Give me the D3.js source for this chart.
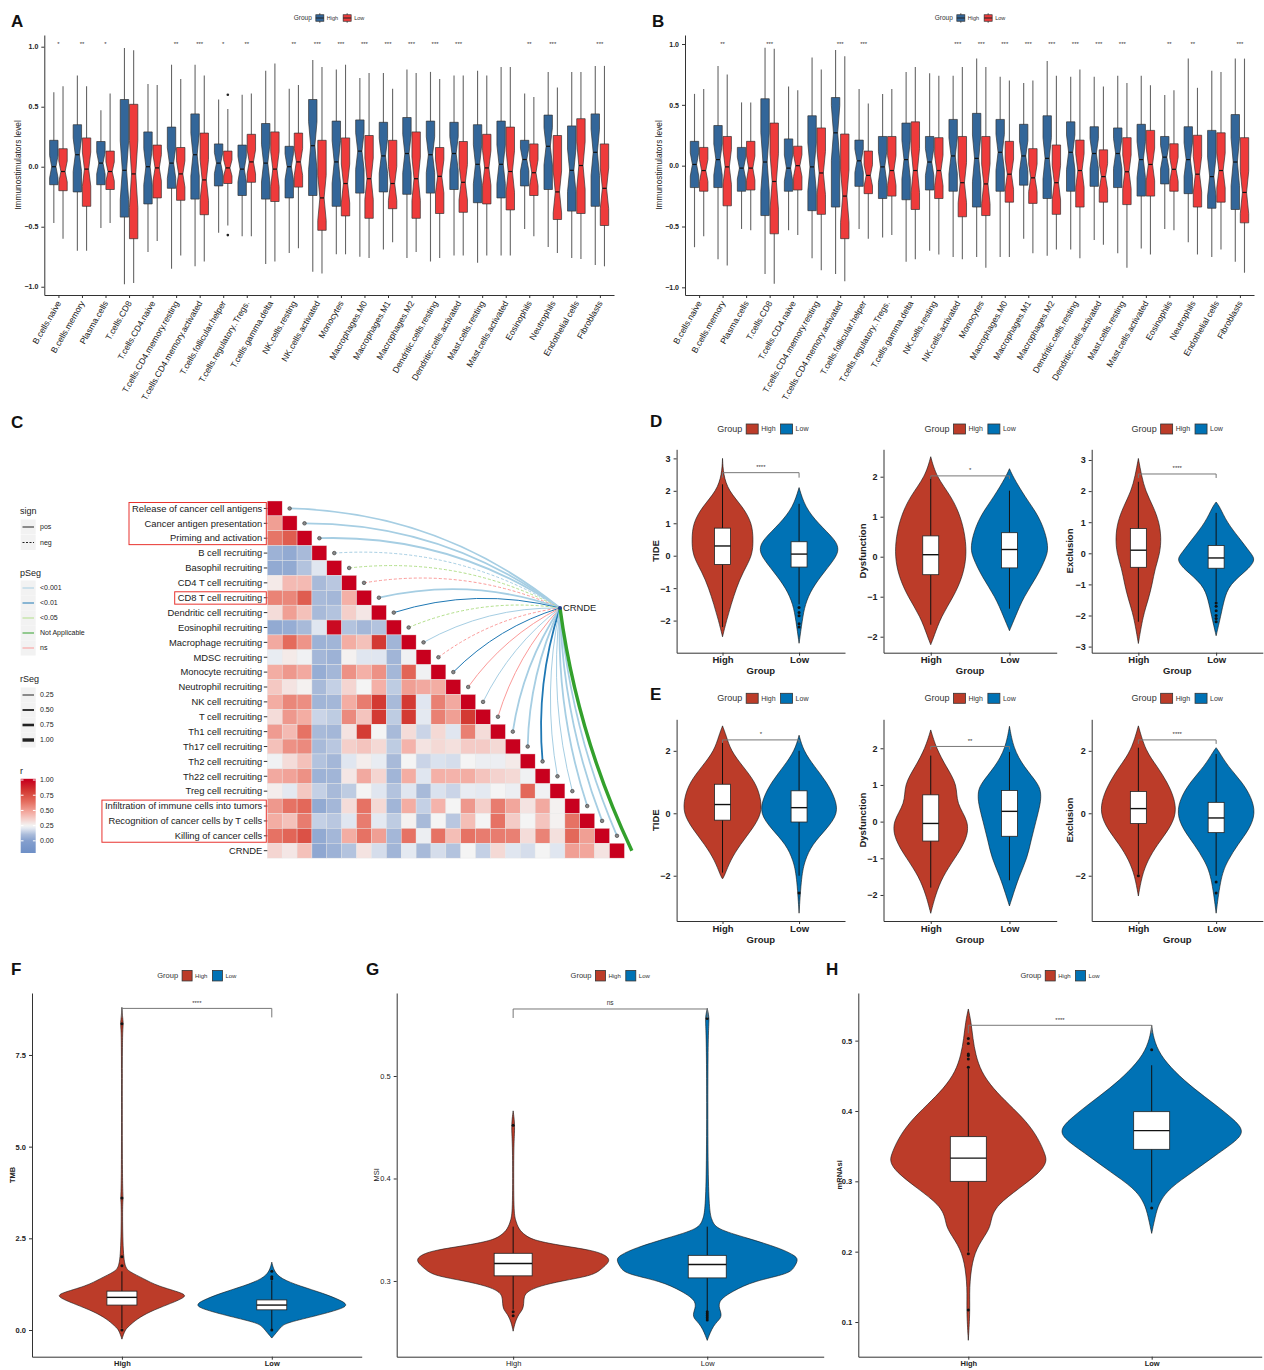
<!DOCTYPE html>
<html>
<head>
<meta charset="utf-8">
<script src="https://cdn.jsdelivr.net/npm/d3@7"></script>
<style>
  body { margin: 0; background: #fff; }
  svg text { font-family: "Liberation Sans", Arial, sans-serif; }
</style>
</head>
<body>
<svg id="fig" width="1264" height="1370"></svg>
<script>
// ---------------- data ----------------
const groups = ['High', 'Low'];
const cellTypes = ['B.cells.naive', 'B.cells.memory', 'Plasma.cells', 'T.cells.CD8', 'T.cells.CD4.naive',
  'T.cells.CD4.memory.resting', 'T.cells.CD4.memory.activated', 'T.cells.follicular.helper',
  'T.cells.regulatory..Tregs.', 'T.cells.gamma.delta', 'NK.cells.resting', 'NK.cells.activated', 'Monocytes',
  'Macrophages.M0', 'Macrophages.M1', 'Macrophages.M2', 'Dendritic.cells.resting', 'Dendritic.cells.activated',
  'Mast.cells.resting', 'Mast.cells.activated', 'Eosinophils', 'Neutrophils', 'Endothelial cells', 'Fibroblasts'];
const stimTicks = [-1, -0.5, 0, 0.5, 1];
const nPerGroup = 40; // used for notch size

// panel A  [lo, q1, median, q3, hi]
const sigA = ['*', '**', '*', '', '', '**', '***', '*', '**', '', '**', '***', '***', '***', '***', '***', '***', '***', '', '', '**', '***', '', '***'];
const aHigh = [[-0.47,-0.15,0.0,0.22,0.62],[-0.70,-0.21,0.10,0.35,0.76],[-0.51,-0.15,0.03,0.21,0.47],[-0.98,-0.42,-0.03,0.56,0.99],
  [-0.71,-0.31,0.0,0.29,0.69],[-0.85,-0.18,0.03,0.33,0.85],[-0.83,-0.27,0.10,0.44,0.85],[-0.55,-0.16,0.03,0.19,0.56],
  [-0.58,-0.24,-0.02,0.18,0.60],[-0.81,-0.27,0.03,0.36,0.80],[-0.72,-0.26,0.0,0.17,0.65],[-0.875,-0.24,0.175,0.56,0.89],
  [-0.73,-0.33,0.04,0.38,0.81],[-0.75,-0.22,0.13,0.39,0.74],[-0.69,-0.21,0.09,0.37,0.78],[-0.76,-0.23,0.11,0.41,0.81],
  [-0.79,-0.22,0.10,0.38,0.79],[-0.74,-0.19,0.11,0.37,0.76],[-0.80,-0.30,0.02,0.35,0.80],[-0.74,-0.26,0.02,0.38,0.83],
  [-0.52,-0.16,0.06,0.22,0.61],[-0.67,-0.19,0.17,0.43,0.79],[-0.76,-0.37,-0.03,0.34,0.79],[-0.82,-0.33,0.12,0.44,0.84]];
const aLow = [[-0.60,-0.20,-0.04,0.15,0.67],[-0.70,-0.33,-0.02,0.24,0.67],[-0.47,-0.19,-0.04,0.13,0.61],[-0.97,-0.60,-0.06,0.52,0.97],
  [-0.62,-0.26,-0.01,0.18,0.68],[-0.74,-0.28,-0.06,0.16,0.73],[-0.79,-0.40,-0.11,0.28,0.76],[-0.49,-0.14,-0.01,0.13,0.48],
  [-0.58,-0.13,0.04,0.27,0.61],[-0.79,-0.29,-0.02,0.29,0.86],[-0.68,-0.17,0.04,0.28,0.68],[-0.89,-0.53,-0.26,0.22,0.83],
  [-0.73,-0.41,-0.14,0.24,0.85],[-0.76,-0.43,-0.10,0.26,0.78],[-0.63,-0.35,-0.14,0.22,0.65],[-0.71,-0.43,-0.10,0.29,0.78],
  [-0.76,-0.39,-0.08,0.16,0.73],[-0.74,-0.38,-0.13,0.21,0.76],[-0.74,-0.31,-0.01,0.27,0.76],[-0.74,-0.36,-0.04,0.33,0.83],
  [-0.58,-0.24,-0.05,0.19,0.58],[-0.72,-0.44,-0.21,0.26,0.66],[-0.77,-0.39,0.01,0.40,0.79],[-0.83,-0.49,-0.18,0.19,0.84]];
const aLowOutliers = [[7, 0.60], [7, -0.57]];

// panel B
const sigB = ['', '**', '', '***', '', '', '***', '***', '', '', '', '***', '***', '***', '***', '***', '***', '***', '***', '', '**', '**', '', '***'];
const bHigh = [[-0.67,-0.18,0.01,0.20,0.59],[-0.77,-0.18,0.05,0.33,0.82],[-0.52,-0.21,-0.02,0.15,0.52],[-0.89,-0.41,0.03,0.55,0.97],
  [-0.53,-0.21,-0.02,0.22,0.65],[-0.76,-0.37,-0.01,0.41,0.89],[-0.89,-0.34,0.27,0.56,0.95],[-0.52,-0.17,0.04,0.21,0.63],
  [-0.59,-0.27,-0.01,0.24,0.59],[-0.79,-0.28,0.05,0.35,0.77],[-0.70,-0.20,0.03,0.24,0.76],[-0.75,-0.21,0.08,0.38,0.74],
  [-0.75,-0.34,0.06,0.43,0.88],[-0.75,-0.21,0.11,0.38,0.73],[-0.60,-0.16,0.08,0.34,0.68],[-0.74,-0.27,0.06,0.41,0.86],
  [-0.69,-0.21,0.11,0.36,0.73],[-0.61,-0.17,0.10,0.32,0.73],[-0.72,-0.18,0.10,0.31,0.74],[-0.68,-0.25,0.05,0.34,0.74],
  [-0.52,-0.15,0.07,0.24,0.58],[-0.63,-0.23,0.05,0.32,0.88],[-0.75,-0.35,-0.09,0.29,0.78],[-0.79,-0.36,0.03,0.42,0.88]];
const bLow = [[-0.58,-0.21,-0.04,0.15,0.63],[-0.82,-0.33,-0.01,0.24,0.75],[-0.53,-0.20,-0.02,0.20,0.52],[-0.97,-0.56,-0.13,0.35,0.96],
  [-0.57,-0.20,0.0,0.16,0.62],[-0.86,-0.40,-0.06,0.31,0.79],[-0.95,-0.60,-0.25,0.26,0.90],[-0.60,-0.23,-0.08,0.12,0.51],
  [-0.57,-0.25,-0.04,0.24,0.63],[-0.77,-0.36,-0.04,0.36,0.81],[-0.73,-0.27,-0.04,0.23,0.74],[-0.77,-0.42,-0.14,0.24,0.81],
  [-0.84,-0.41,-0.15,0.24,0.81],[-0.75,-0.30,-0.07,0.20,0.70],[-0.72,-0.31,-0.10,0.14,0.70],[-0.69,-0.40,-0.14,0.17,0.74],
  [-0.76,-0.34,-0.04,0.21,0.79],[-0.65,-0.30,-0.09,0.13,0.65],[-0.84,-0.32,-0.05,0.23,0.68],[-0.73,-0.25,0.01,0.29,0.66],
  [-0.53,-0.21,-0.03,0.18,0.62],[-0.73,-0.34,-0.07,0.25,0.64],[-0.69,-0.30,-0.04,0.27,0.77],[-0.88,-0.47,-0.22,0.23,0.88]];

// panel C : cancer-immunity cycle steps vs CRNDE (lower triangle of r)
const immuneSteps = ['Release of cancer cell antigens', 'Cancer antigen presentation', 'Priming and activation',
  'B cell recruiting', 'Basophil recruiting', 'CD4 T cell recruiting', 'CD8 T cell recruiting', 'Dendritic cell recruiting',
  'Eosinophil recruiting', 'Macrophage recruiting', 'MDSC recruiting', 'Monocyte recruiting', 'Neutrophil recruiting',
  'NK cell recruiting', 'T cell recruiting', 'Th1 cell recruiting', 'Th17 cell recruiting', 'Th2 cell recruiting',
  'Th22 cell recruiting', 'Treg cell recruiting', 'Infiltration of immune cells into tumors',
  'Recognition of cancer cells by T cells', 'Killing of cancer cells', 'CRNDE'];
const highlightRows = [[0, 2], [6, 6], [20, 22]];
const corrLower = [[],
  [0.5],
  [0.62,0.7],
  [0.07,0.04,0.1],
  [0.04,0.04,0.12,0.2],
  [0.28,0.42,0.42,0.1,0.13],
  [0.58,0.57,0.7,0.1,0.09,0.45],
  [0.32,0.5,0.4,0.1,0.12,0.36,0.29],
  [0.04,0.05,0.1,0.2,0.97,0.12,0.09,0.12],
  [0.47,0.65,0.53,0.07,0.08,0.46,0.4,0.82,0.08],
  [0.22,0.28,0.24,0.09,0.07,0.26,0.2,0.2,0.08,0.24],
  [0.46,0.52,0.47,0.05,0.09,0.54,0.45,0.54,0.09,0.67,0.24],
  [0.38,0.3,0.26,0.1,0.15,0.34,0.25,0.45,0.14,0.5,0.47,0.46],
  [0.46,0.57,0.55,0.08,0.09,0.46,0.6,0.82,0.1,0.82,0.2,0.59,0.47],
  [0.32,0.52,0.46,0.16,0.14,0.56,0.39,0.82,0.14,0.82,0.21,0.59,0.5,0.82],
  [0.51,0.42,0.63,0.1,0.09,0.3,0.81,0.25,0.1,0.32,0.16,0.33,0.2,0.59,0.32],
  [0.4,0.54,0.56,0.1,0.13,0.36,0.39,0.33,0.14,0.44,0.3,0.33,0.31,0.37,0.37,0.33],
  [0.24,0.32,0.4,0.12,0.09,0.2,0.27,0.22,0.1,0.25,0.16,0.19,0.18,0.25,0.23,0.23,0.28],
  [0.47,0.49,0.54,0.07,0.08,0.29,0.47,0.34,0.08,0.46,0.2,0.45,0.44,0.46,0.39,0.35,0.33,0.24],
  [0.27,0.21,0.38,0.15,0.1,0.14,0.25,0.2,0.12,0.2,0.1,0.19,0.16,0.22,0.21,0.25,0.23,0.66,0.24],
  [0.52,0.63,0.66,0.04,0.09,0.32,0.63,0.33,0.08,0.46,0.15,0.44,0.25,0.52,0.36,0.6,0.48,0.3,0.47,0.26],
  [0.46,0.4,0.6,0.15,0.13,0.2,0.6,0.21,0.14,0.26,0.1,0.25,0.13,0.41,0.25,0.63,0.37,0.25,0.39,0.26,0.63],
  [0.63,0.67,0.74,0.04,0.09,0.46,0.63,0.5,0.09,0.63,0.23,0.63,0.41,0.63,0.6,0.6,0.59,0.32,0.58,0.31,0.66,0.5],
  [0.34,0.29,0.4,0.03,0.07,0.12,0.3,0.18,0.08,0.21,0.1,0.18,0.12,0.25,0.15,0.33,0.2,0.18,0.25,0.2,0.5,0.48,0.3]];
const linkSign = ['pos','pos','pos','neg','neg','neg','pos','pos','neg','pos','neg','pos','pos','pos','pos','pos','pos','pos','pos','pos','pos','pos','pos','pos'];
const linkP = ['<0.001','<0.001','<0.001','<0.001','<0.05','ns','<0.001','<0.01','<0.05','<0.001','ns','<0.01','ns','<0.001','ns','<0.001','<0.001','<0.01','<0.001','<0.001','<0.001','<0.001','<0.001','Not Applicable'];
const linkR = [0.5,0.5,0.5,0.25,0.25,0.25,0.5,0.25,0.25,0.25,0.25,0.25,0.25,0.25,0.25,0.5,0.5,0.5,0.25,0.25,0.5,0.5,0.5,1.0];
const pLevels = ['<0.001', '<0.01', '<0.05', 'Not Applicable', 'ns'];
const rLevels = [0.25, 0.5, 0.75, 1.0];
const rTicks = [1.0, 0.75, 0.5, 0.25, 0.0];

// panels D/E: violins  (density profile [value, relative density]), box [lo,q1,med,q3,hi]
const dTideHighDens = [[3.0,0],[2.5,0.02],[2.0,0.15],[1.5,0.52],[1.0,0.75],[0.5,0.78],[0,0.76],[-0.5,0.52],[-1,0.35],[-1.5,0.22],[-2,0.1],[-2.5,0]];
const dTideLowDens = [[2.1,0],[1.5,0.15],[1,0.48],[0.5,0.91],[0.25,1.0],[0,0.97],[-0.5,0.64],[-1,0.33],[-1.5,0.15],[-2,0.08],[-2.7,0]];
const dTideHighBox = [-2.2,-0.27,0.3,0.85,2.2];
const dTideLowBox = [-1.5,-0.35,0.05,0.43,1.6];
const dTideLowOut = [-1.6,-1.75,-1.85,-2.1,-2.2];
const dDysHighDens = [[2.5,0],[2,0.14],[1.5,0.53],[1,0.76],[0.5,0.88],[0,0.91],[-0.5,0.81],[-1,0.58],[-1.5,0.26],[-2,0.08],[-2.2,0]];
const dDysLowDens = [[2.2,0],[2,0.09],[1.5,0.39],[1,0.76],[0.5,0.94],[0.2,0.98],[0,0.94],[-0.5,0.7],[-1,0.36],[-1.5,0.15],[-1.85,0]];
const dDysHighBox = [-1.7,-0.45,0.05,0.52,2.0];
const dDysLowBox = [-1.3,-0.28,0.18,0.6,1.65];
const dExcHighDens = [[3.05,0],[2.5,0.08],[2,0.18],[1.5,0.38],[1,0.53],[0.5,0.58],[0,0.55],[-0.5,0.42],[-1,0.35],[-1.5,0.25],[-2,0.12],[-2.9,0]];
const dExcLowDens = [[1.65,0],[1.5,0.09],[1,0.27],[0.5,0.58],[0,0.88],[-0.2,1.0],[-0.5,0.83],[-1,0.33],[-1.5,0.2],[-2,0.12],[-2.65,0]];
const dExcHighBox = [-2.2,-0.45,0.1,0.8,2.3];
const dExcLowBox = [-1.55,-0.48,-0.15,0.25,1.3];
const dExcLowOut = [-1.6,-1.7,-1.85,-2.0,-2.1,-2.2];

const eTideHighDens = [[2.8,0],[2.5,0.09],[2,0.21],[1.5,0.52],[1,0.83],[0.5,0.97],[0,1.0],[-0.5,0.76],[-1,0.45],[-1.5,0.2],[-2,0.05],[-2.1,0]];
const eTideLowDens = [[2.5,0],[2,0.11],[1.5,0.39],[1,0.7],[0.5,0.91],[0,1.0],[-0.5,0.7],[-1,0.33],[-1.5,0.15],[-2,0.06],[-3.2,0]];
const eTideHighBox = [-1.9,-0.22,0.28,0.93,2.3];
const eTideLowBox = [-2.0,-0.28,0.18,0.72,2.0];
const eTideLowOut = [-2.55];
const eDysHighDens = [[2.5,0],[2,0.14],[1.5,0.39],[1,0.68],[0.5,0.64],[0,0.98],[-0.5,0.91],[-1,0.61],[-1.5,0.3],[-2,0.12],[-2.5,0]];
const eDysLowDens = [[2.6,0],[2,0.1],[1.5,0.36],[1,0.76],[0.75,0.8],[0.5,0.79],[0,0.67],[-0.5,0.55],[-1,0.45],[-1.5,0.24],[-2,0.09],[-2.3,0]];
const eDysHighBox = [-1.8,-0.53,-0.05,0.73,1.8];
const eDysLowBox = [-1.6,-0.4,0.28,0.85,1.9];
const eExcHighDens = [[2.8,0],[2,0.18],[1.5,0.48],[1,0.73],[0.5,0.91],[0,0.97],[-0.5,0.79],[-1,0.48],[-1.5,0.24],[-2,0.09],[-2.65,0]];
const eExcLowDens = [[2.1,0],[2,0.06],[1.5,0.3],[1,0.66],[0.5,0.9],[0,1.0],[-0.5,0.85],[-1,0.55],[-1.5,0.3],[-2,0.12],[-3.2,0]];
const eExcHighBox = [-1.95,-0.33,0.15,0.7,2.1];
const eExcLowBox = [-2.0,-0.62,-0.15,0.35,1.9];
const eExcHighOut = [-2.0];
const eExcLowOut = [-2.2,-2.55];

// panels F/G/H
const tmbHighDens = [[8.8,0],[8.5,0.01],[8.35,0.02],[8.2,0.01],[7.5,0.005],[3.8,0.005],[3.6,0.02],[3.4,0.005],[2.0,0.015],[1.7,0.05],[1.6,0.09],[1.4,0.29],[1.2,0.47],[1.0,0.83],[0.9,0.86],[0.7,0.62],[0.5,0.37],[0.3,0.2],[0.1,0.09],[0,0.04],[-0.25,0]];
const tmbLowDens = [[1.85,0],[1.6,0.03],[1.4,0.12],[1.2,0.37],[1.0,0.69],[0.8,0.93],[0.7,1.0],[0.6,0.97],[0.4,0.62],[0.2,0.2],[0.1,0.13],[0,0.09],[-0.22,0]];
const tmbHighBox = [0.05,0.68,0.89,1.06,1.6];
const tmbLowBox = [0.02,0.55,0.68,0.82,1.35];
const tmbHighOut = [8.35,3.6,2.0,1.75,0.0];
const tmbLowOut = [1.6,1.45,1.4,0.0];
const msiHighDens = [[0.466,0],[0.455,0.015],[0.445,0.015],[0.43,0.005],[0.37,0.005],[0.36,0.02],[0.35,0.06],[0.345,0.12],[0.34,0.2],[0.335,0.46],[0.33,0.82],[0.325,0.96],[0.32,1.0],[0.315,0.95],[0.31,0.89],[0.305,0.8],[0.3,0.5],[0.295,0.27],[0.29,0.15],[0.285,0.11],[0.278,0.11],[0.272,0.1],[0.268,0.06],[0.26,0.02],[0.251,0]];
const msiLowDens = [[0.566,0],[0.555,0.025],[0.545,0.005],[0.37,0.005],[0.36,0.05],[0.351,0.08],[0.342,0.41],[0.332,0.75],[0.325,0.9],[0.321,0.94],[0.314,0.9],[0.307,0.85],[0.3,0.48],[0.29,0.26],[0.28,0.1],[0.27,0.14],[0.264,0.15],[0.257,0.06],[0.242,0]];
const msiHighBox = [0.272,0.305,0.317,0.327,0.353];
const msiLowBox = [0.27,0.303,0.316,0.325,0.353];
const msiHighOut = [0.452,0.27,0.266];
const msiLowOut = [0.556,0.27,0.268,0.266,0.264,0.262];
const siHighDens = [[0.545,0],[0.527,0.03],[0.503,0.05],[0.48,0.08],[0.456,0.14],[0.432,0.27],[0.409,0.45],[0.385,0.64],[0.361,0.77],[0.337,0.85],[0.328,0.86],[0.314,0.8],[0.29,0.56],[0.266,0.31],[0.247,0.25],[0.233,0.24],[0.21,0.11],[0.186,0.04],[0.148,0.01],[0.117,0.02],[0.074,0]];
const siLowDens = [[0.522,0],[0.503,0.02],[0.48,0.09],[0.456,0.25],[0.432,0.46],[0.409,0.7],[0.385,0.93],[0.373,1.0],[0.361,0.97],[0.337,0.7],[0.314,0.46],[0.29,0.19],[0.271,0.09],[0.257,0.05],[0.226,0]];
const siHighBox = [0.2,0.3,0.333,0.3635,0.46];
const siLowBox = [0.27,0.3455,0.372,0.399,0.465];
const siHighOut = [0.503,0.496,0.481,0.479,0.474,0.462,0.197,0.117];
const siLowOut = [0.487,0.262];

// ---------------- drawing ----------------
const svg = d3.select('#fig');
const boxCols = ['#336699', '#EE3B3B'];
const vioCols = ['#BC3C29', '#0072B5'];

function styleAxis(sel, fs, bold) {
  sel.attr('font-family', null).attr('font-size', null);
  sel.select('.domain').attr('stroke', '#333').attr('stroke-width', 1);
  sel.selectAll('.tick line').attr('stroke', '#333');
  sel.selectAll('.tick text').attr('fill', '#222').style('font-size', fs + 'px')
    .style('font-weight', bold ? 'bold' : 'normal');
}

function groupLegend(cx, cy, o) {
  const g = svg.append('g');
  const t = g.append('text').text('Group').attr('y', cy).attr('dy', '0.35em')
    .style('font-size', o.titleFs + 'px').attr('fill', '#333');
  let x = t.node().getComputedTextLength() + 4;
  groups.forEach((name, i) => {
    const k = g.append('g').attr('transform', `translate(${x},${cy - o.kh / 2})`);
    if (o.boxGlyph) {
      k.append('line').attr('x1', o.kw / 2).attr('x2', o.kw / 2).attr('y1', -1.5).attr('y2', o.kh + 1.5).attr('stroke', '#555');
      k.append('rect').attr('width', o.kw).attr('height', o.kh).attr('fill', o.cols[i]).attr('stroke', '#333').attr('stroke-width', 0.7);
      k.append('line').attr('x1', 0).attr('x2', o.kw).attr('y1', o.kh / 2).attr('y2', o.kh / 2).attr('stroke', '#222');
    } else {
      k.append('rect').attr('width', o.kw).attr('height', o.kh).attr('fill', o.cols[i]).attr('stroke', '#333').attr('stroke-width', 0.8);
    }
    x += o.kw + 3;
    const lt = g.append('text').text(name).attr('x', x).attr('y', cy).attr('dy', '0.35em')
      .style('font-size', o.labFs + 'px').attr('fill', '#333');
    x += lt.node().getComputedTextLength() + 5;
  });
  g.attr('transform', `translate(${cx - (x - 5) / 2},0)`);
}

function boxPanel(o) {
  const g = svg.append('g');
  const x = d3.scalePoint().domain(cellTypes).range([o.left, o.right]).padding(0.6);
  const y = d3.scaleLinear().domain(o.yDomain).range([o.bottom, o.top]);
  const ya = g.append('g').attr('transform', `translate(${o.left},0)`)
    .call(d3.axisLeft(y).tickValues(stimTicks).tickFormat(d3.format('.1f')).tickSize(3).tickSizeOuter(0));
  styleAxis(ya, 7, true);
  const xa = g.append('g').attr('transform', `translate(0,${o.bottom})`)
    .call(d3.axisBottom(x).tickSize(3).tickSizeOuter(0).tickFormat(''));
  styleAxis(xa, 8, false);
  g.selectAll('text.xl').data(cellTypes).join('text').attr('class', 'xl')
    .attr('transform', d => `translate(${x(d) + 3},${o.bottom + 8}) rotate(-60)`)
    .attr('text-anchor', 'end').style('font-size', '8.6px').attr('fill', '#1a1a1a').text(d => d);
  g.append('text').attr('transform', `translate(${o.left - 26},${(o.top + o.bottom) / 2}) rotate(-90)`)
    .attr('text-anchor', 'middle').attr('dy', '0.35em').style('font-size', '8.3px').attr('fill', '#222')
    .text('Immunostimulators level');
  g.selectAll('text.sig').data(o.sig).join('text').attr('class', 'sig')
    .attr('x', (d, i) => x(cellTypes[i])).attr('y', o.top + 10.5).attr('text-anchor', 'middle')
    .style('font-size', '6px').attr('fill', '#333').text(d => d);
  const bw = 8.4, hw = bw / 2, nw = hw * 0.5;
  [o.high, o.low].forEach((stats, gi) => {
    const off = gi === 0 ? -4.6 : 4.6;
    stats.forEach((s, i) => {
      const cx = x(cellTypes[i]) + off;
      const [lo, q1, med, q3, hi] = s;
      const notch = 1.58 * (q3 - q1) / Math.sqrt(nPerGroup);
      g.append('line').attr('x1', cx).attr('x2', cx).attr('y1', y(hi)).attr('y2', y(lo))
        .attr('stroke', '#666').attr('stroke-width', 1.1);
      const pts = [[cx - hw, y(q3)], [cx + hw, y(q3)], [cx + hw, y(med + notch)], [cx + hw - nw, y(med)],
        [cx + hw, y(med - notch)], [cx + hw, y(q1)], [cx - hw, y(q1)], [cx - hw, y(med - notch)],
        [cx - hw + nw, y(med)], [cx - hw, y(med + notch)]];
      g.append('path').attr('d', 'M' + pts.join('L') + 'Z').attr('fill', boxCols[gi])
        .attr('stroke', '#333').attr('stroke-width', 0.7);
      g.append('line').attr('x1', cx - hw + nw).attr('x2', cx + hw - nw).attr('y1', y(med)).attr('y2', y(med))
        .attr('stroke', '#111').attr('stroke-width', 1.2);
    });
  });
  (o.lowOut || []).forEach(([i, v]) => {
    g.append('circle').attr('cx', x(cellTypes[i]) + 4.6).attr('cy', y(v)).attr('r', 1.3).attr('fill', '#222');
  });
  groupLegend(o.legendX, 18, { titleFs: 6.5, labFs: 5.5, kw: 8, kh: 6.5, boxGlyph: true, cols: boxCols });
}

function violinPath(dens, cx, y, w) {
  const top = dens.slice().sort((a, b) => b[0] - a[0]);
  const line = d3.line().y(d => y(d[0])).curve(d3.curveBasis);
  const right = line.x(d => cx + w(d[1]))(top);
  const left = line.x(d => cx - w(d[1]))(top.slice().reverse());
  return right + 'L' + left.slice(1) + 'Z';
}

function violinPanel(o) {
  const g = svg.append('g');
  const x = d3.scalePoint().domain(groups).range([o.left, o.right]).padding(0.6);
  const y = d3.scaleLinear().domain(o.yDomain).range([o.bottom, o.top]);
  const w = d3.scaleLinear().domain([0, 1]).range([0, o.maxHalf]);
  const ya = g.append('g').attr('transform', `translate(${o.left},0)`)
    .call(d3.axisLeft(y).tickValues(o.ticks).tickFormat(o.fmt).tickSize(3).tickSizeOuter(0));
  styleAxis(ya, o.tickFs, o.bold);
  const xa = g.append('g').attr('transform', `translate(0,${o.bottom})`)
    .call(d3.axisBottom(x).tickSize(3).tickPadding(1).tickSizeOuter(0));
  styleAxis(xa, o.xFs, o.bold);
  g.append('text').attr('transform', `translate(${o.titleX},${(o.top + o.bottom) / 2}) rotate(-90)`)
    .attr('text-anchor', 'middle').attr('dy', '0.35em').style('font-size', o.titleFs + 'px')
    .style('font-weight', o.bold ? 'bold' : 'normal').attr('fill', '#222').text(o.yTitle);
  if (o.groupTitle) {
    g.append('text').attr('x', (o.left + o.right) / 2).attr('y', o.bottom + 21.5).attr('text-anchor', 'middle')
      .style('font-size', o.xFs + 'px').style('font-weight', 'bold').attr('fill', '#222').text('Group');
  }
  o.series.forEach((s, i) => {
    const cx = x(groups[i]);
    g.append('path').attr('d', violinPath(s.dens, cx, y, w)).attr('fill', vioCols[i])
      .attr('stroke', '#111').attr('stroke-width', 0.6);
    const [lo, q1, med, q3, hi] = s.box;
    g.append('line').attr('x1', cx).attr('x2', cx).attr('y1', y(hi)).attr('y2', y(lo)).attr('stroke', '#111').attr('stroke-width', 1);
    g.append('rect').attr('x', cx - o.boxW / 2).attr('width', o.boxW).attr('y', y(q3)).attr('height', y(q1) - y(q3))
      .attr('fill', '#fff').attr('stroke', '#222').attr('stroke-width', 0.8);
    g.append('line').attr('x1', cx - o.boxW / 2).attr('x2', cx + o.boxW / 2).attr('y1', y(med)).attr('y2', y(med))
      .attr('stroke', '#111').attr('stroke-width', 1.4);
    (s.out || []).forEach(v => g.append('circle').attr('cx', cx).attr('cy', y(v)).attr('r', 1.5).attr('fill', '#111'));
  });
  const by = y(o.bracketV), x1 = x(groups[0]), x2 = x(groups[1]);
  g.append('path').attr('d', `M${x1},${by + o.tip}L${x1},${by}L${x2},${by}L${x2},${by + o.tip}`)
    .attr('fill', 'none').attr('stroke', '#777').attr('stroke-width', 1);
  g.append('text').attr('x', (x1 + x2) / 2).attr('y', by - 3.5).attr('text-anchor', 'middle')
    .style('font-size', o.sig === 'ns' ? '6.5px' : '6px').attr('fill', '#333').text(o.sig);
  groupLegend((o.left + o.right) / 2 + o.legendShift, o.legendY, o.legend);
}

// ---- panel letters
[['A', 11, 27], ['B', 652, 27], ['C', 11, 428], ['D', 650, 427], ['E', 650, 700], ['F', 11, 975], ['G', 366, 975], ['H', 826, 975]]
  .forEach(([t, x, y]) => svg.append('text').attr('x', x).attr('y', y).style('font-size', '17px')
    .style('font-weight', 'bold').attr('fill', '#111').text(t));

// ---- A, B
boxPanel({ left: 44.3, right: 614, top: 35, bottom: 295, yDomain: [-1.069, 1.0975], high: aHigh, low: aLow, sig: sigA, lowOut: aLowOutliers, legendX: 329 });
boxPanel({ left: 685, right: 1254, top: 35, bottom: 295, yDomain: [-1.063, 1.074], high: bHigh, low: bLow, sig: sigB, legendX: 970 });

// ---- C : correlation heatmap + links
(function () {
  const g = svg.append('g');
  const n = immuneSteps.length;
  const x0 = 267.3, y0 = 501, cell = 14.88;
  const colC = j => x0 + (j + 0.5) * cell;
  const rowC = i => y0 + (i + 0.5) * cell;
  const rColor = d3.scaleLinear().domain([-0.2, 0, 0.1, 0.2, 0.25, 0.45, 0.65, 0.82, 1])
    .range(['#6E8FC6', '#849FCE', '#A8BAD9', '#E0E6F0', '#F4F4F4', '#F4B0A7', '#E46B5C', '#D33A33', '#C8001E']).clamp(true);
  const cells = [];
  for (let i = 0; i < n; i++) for (let j = 0; j <= i; j++) cells.push({ i, j, r: i === j ? 1 : corrLower[i][j] });
  g.selectAll('rect.cell').data(cells).join('rect').attr('class', 'cell')
    .attr('x', d => x0 + d.j * cell).attr('y', d => y0 + d.i * cell).attr('width', cell).attr('height', cell)
    .attr('fill', d => rColor(d.r)).attr('stroke', '#e6e6e6').attr('stroke-width', 0.4);
  // row labels
  const labs = g.selectAll('text.rl').data(immuneSteps).join('text').attr('class', 'rl')
    .attr('x', x0 - 5).attr('y', (d, i) => rowC(i)).attr('dy', '0.35em').attr('text-anchor', 'end')
    .style('font-size', '9.4px').attr('fill', '#1a1a1a').text(d => d);
  g.selectAll('line.rt').data(immuneSteps).join('line').attr('class', 'rt')
    .attr('x1', x0 - 3.5).attr('x2', x0).attr('y1', (d, i) => rowC(i)).attr('y2', (d, i) => rowC(i)).attr('stroke', '#333');
  const widths = labs.nodes().map(nd => nd.getComputedTextLength());
  highlightRows.forEach(([a, b]) => {
    const wmax = d3.max(d3.range(a, b + 1), i => widths[i]);
    g.append('rect').attr('x', x0 - 5 - wmax - 3).attr('y', y0 + a * cell + 1.5)
      .attr('width', wmax + 7).attr('height', (b - a + 1) * cell - 2.5)
      .attr('fill', 'none').attr('stroke', '#E8322E').attr('stroke-width', 1);
  });
  // links
  const node = [560, 608];
  const pCol = d3.scaleOrdinal().domain(pLevels).range(['#A6CEE3', '#1F78B4', '#B2DF8A', '#33A02C', '#FB9A99']);
  const rW = d3.scaleLinear().domain([0.25, 1]).range([1, 3.4]);
  linkSign.forEach((s, i) => {
    const px = colC(i + 1), py = rowC(i);
    const dx = node[0] - px, dy = node[1] - py;
    const k = 0.17 - 0.004 * i;
    const qx = (px + node[0]) / 2 + k * dy, qy = (py + node[1]) / 2 - k * dx;
    g.append('path').attr('d', `M${px},${py}Q${qx},${qy} ${node[0]},${node[1]}`).attr('fill', 'none')
      .attr('stroke', pCol(linkP[i])).attr('stroke-width', rW(linkR[i]))
      .attr('stroke-dasharray', s === 'neg' ? '3,2' : null);
  });
  linkSign.slice(0, n - 1).forEach((s, i) => {
    g.append('circle').attr('cx', colC(i + 1)).attr('cy', rowC(i)).attr('r', 1.8).attr('fill', '#888').attr('stroke', '#333').attr('stroke-width', 0.6);
  });
  g.append('circle').attr('cx', node[0]).attr('cy', node[1]).attr('r', 2).attr('fill', '#1F3E8C');
  g.append('text').attr('x', node[0] + 3).attr('y', node[1]).attr('dy', '0.35em').style('font-size', '9.4px').attr('fill', '#1a1a1a').text('CRNDE');

  // legends
  const L = svg.append('g');
  const title = (t, yy) => L.append('text').attr('x', 20).attr('y', yy).style('font-size', '9px').attr('fill', '#222').text(t);
  const key = (yy, draw, label) => {
    L.append('rect').attr('x', 20.7).attr('y', yy - 7.5).attr('width', 15).attr('height', 15).attr('fill', '#F2F2F2');
    draw(L.append('line').attr('x1', 22.5).attr('x2', 34).attr('y1', yy).attr('y2', yy));
    L.append('text').attr('x', 40).attr('y', yy).attr('dy', '0.35em').style('font-size', '7px').attr('fill', '#222').text(label);
  };
  title('sign', 513.5);
  key(527, l => l.attr('stroke', '#222').attr('stroke-width', 1), 'pos');
  key(542.5, l => l.attr('stroke', '#222').attr('stroke-width', 1).attr('stroke-dasharray', '2,1.5'), 'neg');
  title('pSeg', 575.5);
  pLevels.forEach((p, i) => key(588 + i * 15, l => l.attr('stroke', pCol(p)).attr('stroke-width', 1), p));
  title('rSeg', 681.5);
  rLevels.forEach((r, i) => key(695 + i * 15, l => l.attr('stroke', '#222').attr('stroke-width', rW(r)), d3.format('.2f')(r)));
  title('r', 774);
  const cb = d3.scaleLinear().domain([-0.2, 1.02]).range([853, 778.8]);
  const grad = svg.append('defs').append('linearGradient').attr('id', 'rgrad').attr('x1', 0).attr('y1', 1).attr('x2', 0).attr('y2', 0);
  d3.range(-0.2, 1.03, 0.02).forEach(v => grad.append('stop').attr('offset', (v + 0.2) / 1.22).attr('stop-color', rColor(v)));
  L.append('rect').attr('x', 20.7).attr('y', cb(1.02)).attr('width', 15).attr('height', cb(-0.2) - cb(1.02)).attr('fill', 'url(#rgrad)');
  rTicks.forEach(v => {
    L.append('line').attr('x1', 20.7).attr('x2', 23.5).attr('y1', cb(v)).attr('y2', cb(v)).attr('stroke', '#fff');
    L.append('line').attr('x1', 32.9).attr('x2', 35.7).attr('y1', cb(v)).attr('y2', cb(v)).attr('stroke', '#fff');
    L.append('text').attr('x', 40).attr('y', cb(v)).attr('dy', '0.35em').style('font-size', '7px').attr('fill', '#222').text(d3.format('.2f')(v));
  });
})();

// ---- D, E, F, G, H
const legDE = { titleFs: 9, labFs: 7, kw: 12, kh: 10, cols: vioCols };
const legFGH = { titleFs: 7.5, labFs: 6, kw: 10, kh: 10.5, cols: vioCols };
const deCommon = { tickFs: 9, xFs: 9.5, titleFs: 9.5, bold: true, fmt: d3.format('d'), maxHalf: 39.4, boxW: 16, groupTitle: true, legend: legDE };
const fghCommon = { top: 993, bottom: 1356.7, tickFs: 7.5, xFs: 7.5, titleFs: 7.5, fmt: d3.format('.1f'), groupTitle: false, legend: legFGH, legendY: 975.7 };
const dCols = [[676.6, 845, 656], [883.5, 1056.7, 862.9], [1091.7, 1262.8, 1069.8]];

violinPanel({ ...deCommon, left: dCols[0][0], right: dCols[0][1], titleX: dCols[0][2], top: 449.3, bottom: 652.7,
  yDomain: [-2.99, 3.28], ticks: [-2, -1, 0, 1, 2, 3], yTitle: 'TIDE', legendY: 429, legendShift: 2,
  series: [{ dens: dTideHighDens, box: dTideHighBox }, { dens: dTideLowDens, box: dTideLowBox, out: dTideLowOut }],
  bracketV: 2.56, tip: 5, sig: '****' });
violinPanel({ ...deCommon, left: dCols[1][0], right: dCols[1][1], titleX: dCols[1][2], top: 449.3, bottom: 652.7,
  yDomain: [-2.4, 2.685], ticks: [-2, -1, 0, 1, 2], yTitle: 'Dysfunction', legendY: 429, legendShift: 0,
  series: [{ dens: dDysHighDens, box: dDysHighBox }, { dens: dDysLowDens, box: dDysLowBox }],
  bracketV: 2.02, tip: 3, sig: '*' });
violinPanel({ ...deCommon, left: dCols[2][0], right: dCols[2][1], titleX: dCols[2][2], top: 449.3, bottom: 652.7,
  yDomain: [-3.196, 3.344], ticks: [-3, -2, -1, 0, 1, 2, 3], yTitle: 'Exclusion', legendY: 429, legendShift: 0,
  series: [{ dens: dExcHighDens, box: dExcHighBox }, { dens: dExcLowDens, box: dExcLowBox, out: dExcLowOut }],
  bracketV: 2.55, tip: 4, sig: '****' });

violinPanel({ ...deCommon, left: dCols[0][0], right: dCols[0][1], titleX: dCols[0][2], top: 719.3, bottom: 921,
  yDomain: [-3.45, 3.01], ticks: [-2, 0, 2], yTitle: 'TIDE', legendY: 698.3, legendShift: 2,
  series: [{ dens: eTideHighDens, box: eTideHighBox }, { dens: eTideLowDens, box: eTideLowBox, out: eTideLowOut }],
  bracketV: 2.35, tip: 3, sig: '*' });
violinPanel({ ...deCommon, left: dCols[1][0], right: dCols[1][1], titleX: dCols[1][2], top: 719.3, bottom: 921,
  yDomain: [-2.71, 2.79], ticks: [-2, -1, 0, 1, 2], yTitle: 'Dysfunction', legendY: 698.3, legendShift: 0,
  series: [{ dens: eDysHighDens, box: eDysHighBox }, { dens: eDysLowDens, box: eDysLowBox }],
  bracketV: 2.05, tip: 3, sig: '**' });
violinPanel({ ...deCommon, left: dCols[2][0], right: dCols[2][1], titleX: dCols[2][2], top: 719.3, bottom: 921,
  yDomain: [-3.45, 3.01], ticks: [-2, 0, 2], yTitle: 'Exclusion', legendY: 698.3, legendShift: 0,
  series: [{ dens: eExcHighDens, box: eExcHighBox, out: eExcHighOut }, { dens: eExcLowDens, box: eExcLowBox, out: eExcLowOut }],
  bracketV: 2.35, tip: 4, sig: '****' });

violinPanel({ ...fghCommon, left: 32, right: 361.7, titleX: 12, yDomain: [-0.728, 9.19], ticks: [0, 2.5, 5, 7.5],
  yTitle: 'TMB', bold: true, maxHalf: 75, boxW: 30, legendShift: 0,
  series: [{ dens: tmbHighDens, box: tmbHighBox, out: tmbHighOut }, { dens: tmbLowDens, box: tmbLowBox, out: tmbLowOut }],
  bracketV: 8.77, tip: 9, sig: '****' });
violinPanel({ ...fghCommon, left: 396.7, right: 823.7, titleX: 376.7, yDomain: [0.2261, 0.581], ticks: [0.3, 0.4, 0.5],
  yTitle: 'MSI', bold: false, maxHalf: 97, boxW: 38, legendShift: 0,
  series: [{ dens: msiHighDens, box: msiHighBox, out: msiHighOut }, { dens: msiLowDens, box: msiLowBox, out: msiLowOut }],
  bracketV: 0.5654, tip: 9, sig: 'ns' });
violinPanel({ ...fghCommon, left: 858.3, right: 1261.7, titleX: 839.3, yDomain: [0.0507, 0.5677], ticks: [0.1, 0.2, 0.3, 0.4, 0.5],
  yTitle: 'mRNAsi', bold: true, maxHalf: 91, boxW: 36, legendShift: 0,
  series: [{ dens: siHighDens, box: siHighBox, out: siHighOut }, { dens: siLowDens, box: siLowBox, out: siLowOut }],
  bracketV: 0.5218, tip: 8, sig: '****' });
</script>
</body>
</html>
